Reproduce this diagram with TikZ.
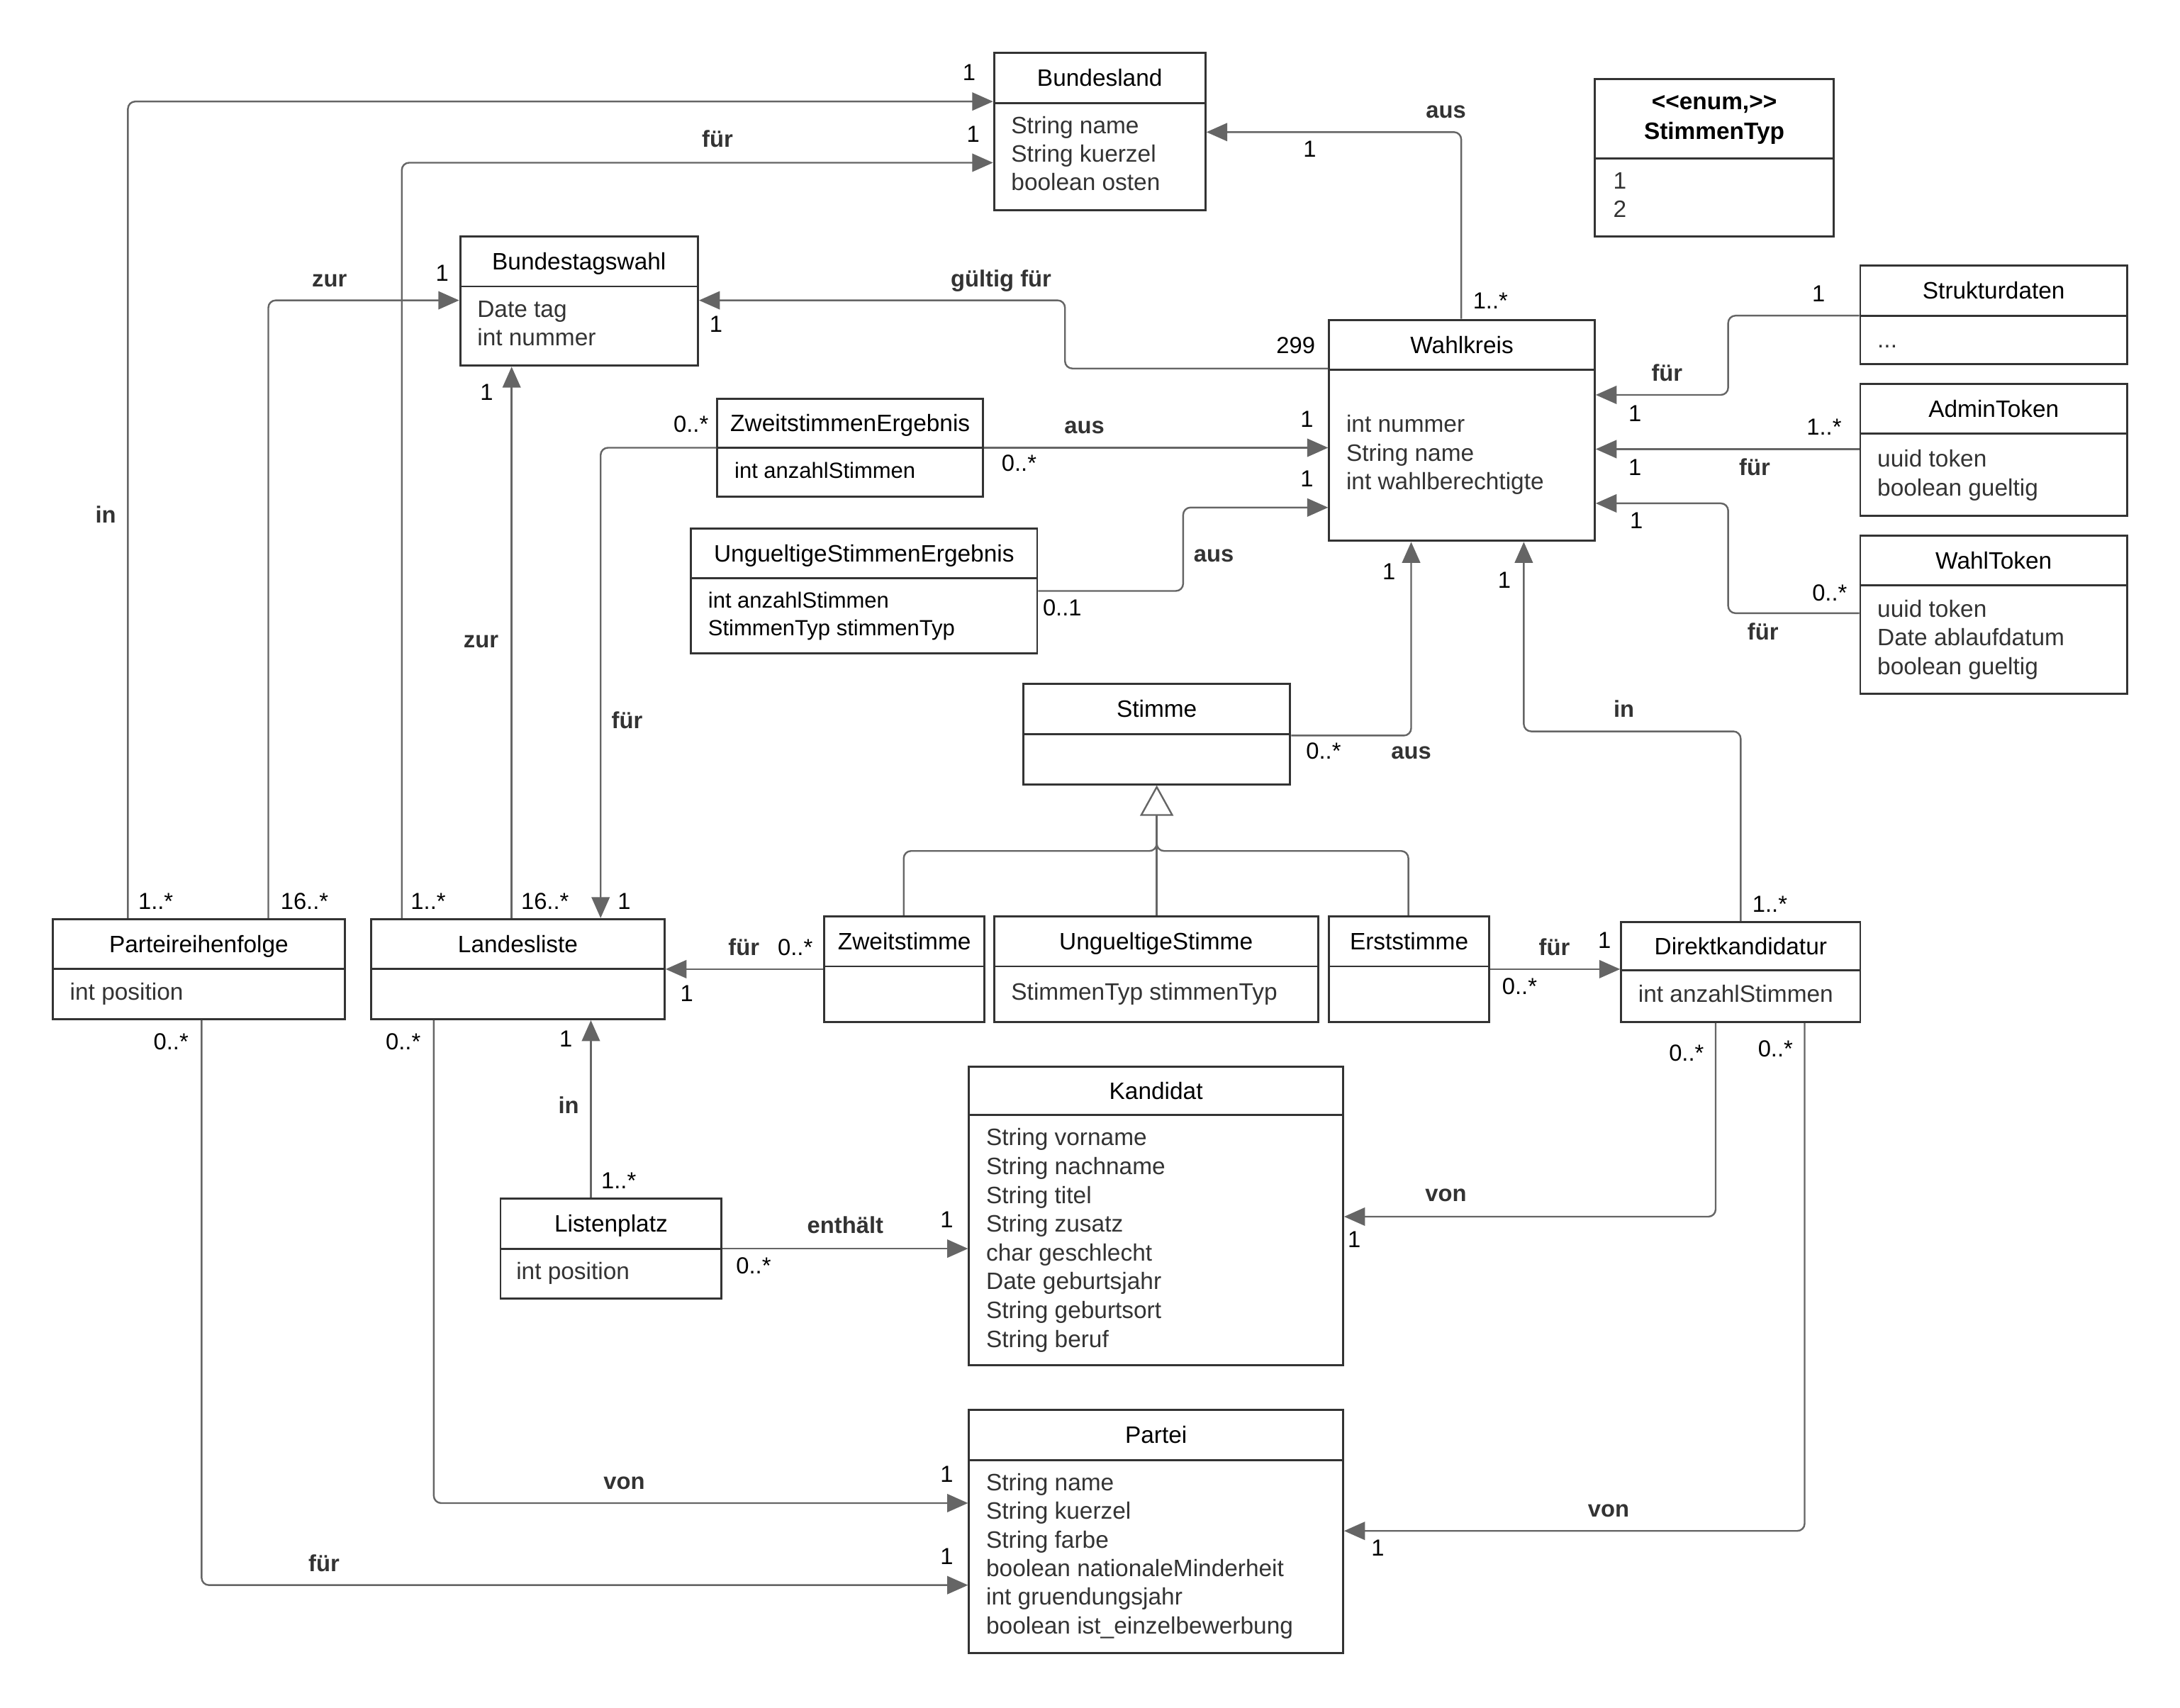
\documentclass[tikz,border=0pt]{standalone}
\usepackage{fontspec}
\setmainfont{Liberation Sans}
\usetikzlibrary{arrows.meta,fit,calc}
\definecolor{boxc}{HTML}{333333}
\definecolor{linec}{HTML}{656565}
\definecolor{attrc}{HTML}{333333}
\tikzset{
  sepline/.style={draw=boxc, line width=0.85pt},
  ttl/.style={inner sep=0pt, anchor=base, font=\fontsize{9.7}{11}\selectfont, text=black},
  attr/.style={inner sep=0pt, anchor=base west, font=\fontsize{9.7}{11}\selectfont, text=attrc},
  attrsmall/.style={inner sep=0pt, anchor=base west, font=\fontsize{9}{11}\selectfont, text=black},
  conn/.style={draw=linec, line width=0.7pt, rounded corners=3pt, -{Triangle[length=0.3cm,width=0.26cm]}},
  genl/.style={draw=linec, line width=0.7pt, rounded corners=3pt},
  gen/.style={draw=linec, line width=0.7pt, -{Triangle[length=0.44cm,width=0.48cm,fill=white]}},
  mult/.style={inner sep=0pt, anchor=base, font=\fontsize{9.5}{11}\selectfont, text=black},
  rl/.style={inner sep=0pt, anchor=base, font=\bfseries\fontsize{9.5}{11}\selectfont, text=boxc},
}
\newcommand{\umlclass}[7]{%
  \node[draw=boxc, line width=0.85pt, inner sep=0pt, fit={(#2,#3) (#4,#5)}] (#1) {};
  \draw[sepline] (#1.west |- 0,#6) -- (#1.east |- 0,#6);
  \node[ttl] (#1-t) at ({(#2+#4)/2},{(#3+#6)/2+6}) {#7};
}
\newcommand{\umlattrs}[6]{%
  \foreach \txt [count=\i from 0] in {#6} {
    \node[#1] (#2-a\i) at (#3, {#4+6+\i*#5}) {\txt};
  }
}
\newcommand{\lab}[5]{\node[#1] (#2) at (#3,{#4+6}) {#5};}
\begin{document}
\begin{tikzpicture}[x=0.02cm, y=-0.02cm]
\fill[white] (0,0) rectangle (1568,1228);
\useasboundingbox (0,0) rectangle (1568,1228);

% classes
\umlclass{bl}{715}{38}{867}{151}{74}{Bundesland}
\umlattrs{attr}{bl}{727}{90}{20.5}{String name, String kuerzel, boolean osten}

\node[draw=boxc, line width=0.85pt, inner sep=0pt, fit={(1147,57) (1319,170)}] (en) {};
\draw[sepline] (en.west |- 0,114) -- (en.east |- 0,114);
\node[ttl, font=\bfseries\fontsize{9.7}{11}\selectfont] (en-t1) at (1233,79) {<\kern0pt<enum,>\kern0pt>};
\node[ttl, font=\bfseries\fontsize{9.7}{11}\selectfont] (en-t2) at (1233,100) {StimmenTyp};
\umlattrs{attr}{en}{1160}{130}{20.5}{1, 2}

\umlclass{btw}{331}{170}{502}{263}{206}{Bundestagswahl}
\umlattrs{attr}{btw}{343}{222}{20.5}{Date tag, int nummer}

\umlclass{wk}{956}{230}{1147}{389}{266}{Wahlkreis}
\umlattrs{attr}{wk}{968}{305}{20.5}{int nummer, String name, int wahlberechtigte}

\umlclass{sd}{1338}{191}{1530}{262}{227}{Strukturdaten}
\node[attr] (sd-a0) at (1350,250) {...};

\umlclass{at}{1338}{276}{1530}{371}{312}{AdminToken}
\umlattrs{attr}{at}{1350}{330}{20.5}{uuid token, boolean gueltig}

\umlclass{wt}{1338}{385}{1530}{499}{421}{WahlToken}
\umlattrs{attr}{wt}{1350}{438}{20.5}{uuid token, Date ablaufdatum, boolean gueltig}

\umlclass{ze}{516}{287}{707}{357}{322}{ZweitstimmenErgebnis}
\umlattrs{attrsmall}{ze}{528}{338}{20}{int anzahlStimmen}

\umlclass{ue}{497}{380}{746}{470}{416}{UngueltigeStimmenErgebnis}
\umlattrs{attrsmall}{ue}{509}{431}{20}{int anzahlStimmen, StimmenTyp stimmenTyp}

\umlclass{st}{736}{492}{928}{564}{528}{Stimme}

\umlclass{zs}{593}{659}{708}{735}{695}{Zweitstimme}
\umlclass{us}{715}{659}{948}{735}{695}{UngueltigeStimme}
\umlattrs{attr}{us}{727}{713}{20.5}{StimmenTyp stimmenTyp}
\umlclass{es}{956}{659}{1071}{735}{695}{Erststimme}

\umlclass{dk}{1166}{663}{1338}{735}{698}{Direktkandidatur}
\umlattrs{attr}{dk}{1178}{715}{20.5}{int anzahlStimmen}

\umlclass{prf}{38}{661}{248}{733}{697}{Parteireihenfolge}
\umlattrs{attr}{prf}{50}{713}{20.5}{int position}

\umlclass{ll}{267}{661}{478}{733}{697}{Landesliste}

\umlclass{lp}{360}{862}{519}{934}{898}{Listenplatz}
\umlattrs{attr}{lp}{371}{914}{20.5}{int position}

\umlclass{kd}{697}{767}{966}{982}{802}{Kandidat}
\umlattrs{attr}{kd}{709}{818}{20.7}{String vorname, String nachname, String titel, String zusatz, char geschlecht, Date geburtsjahr, String geburtsort, String beruf}

\umlclass{pt}{697}{1014}{966}{1189}{1050}{Partei}
\umlattrs{attr}{pt}{709}{1066}{20.6}{String name, String kuerzel, String farbe, boolean nationaleMinderheit, int gruendungsjahr, boolean ist\_einzelbewerbung}

% connectors
\draw[conn] (prf.north -| 92,0) |- (bl.west |- 0,73);
\draw[conn] (ll.north -| 289,0) |- (bl.west |- 0,117);
\draw[conn] (prf.north -| 193,0) |- (btw.west |- 0,216);
\draw[conn] (ll.north -| 368,0) -- (btw.south -| 368,0);
\draw[conn] (wk.west |- 0,265) -| (766,216) -- (btw.east |- 0,216);
\draw[conn] (wk.north -| 1051,0) |- (bl.east |- 0,95);
\draw[conn] (ze.west |- 0,322) -| (ll.north -| 432,0);
\draw[conn] (ze.east |- 0,322) -- (wk.west |- 0,322);
\draw[conn] (ue.east |- 0,425) -| (851,365) -- (wk.west |- 0,365);
\draw[conn] (st.east |- 0,529) -| (wk.south -| 1015,0);
\draw[conn] (dk.north -| 1252,0) |- (1096,526) -- (wk.south -| 1096,0);
\draw[conn] (sd.west |- 0,227) -| (1243,284) -- (wk.east |- 0,284);
\draw[conn] (at.west |- 0,323) -- (wk.east |- 0,323);
\draw[conn] (wt.west |- 0,441) -| (1243,362) -- (wk.east |- 0,362);
\draw[conn] (zs.west |- 0,697) -- (ll.east |- 0,697);
\draw[conn] (es.east |- 0,697) -- (dk.west |- 0,697);
\draw[conn] (lp.north -| 425,0) -- (ll.south -| 425,0);
\draw[conn] (lp.east |- 0,898) -- (kd.west |- 0,898);
\draw[conn] (dk.south -| 1234,0) |- (kd.east |- 0,875);
\draw[conn] (dk.south -| 1298,0) |- (pt.east |- 0,1101);
\draw[conn] (ll.south -| 312,0) |- (pt.west |- 0,1081);
\draw[conn] (prf.south -| 145,0) |- (pt.west |- 0,1140);

% generalisation
\draw[genl] (zs.north -| 650,0) |- (832,612) -- (832,595);
\draw[genl] (es.north -| 1013,0) |- (832,612) -- (832,595);
\draw[gen] (us.north -| 832,0) -- (st.south -| 832,0);

% labels
\lab{mult}{m1}{697}{52}{1}
\lab{rl}{r1}{76}{370}{in}
\lab{mult}{m2}{112}{648}{1..*}
\lab{rl}{r2}{516}{100}{für}
\lab{mult}{m3}{700}{96}{1}
\lab{mult}{m4}{308}{648}{1..*}
\lab{rl}{r3}{237}{200}{zur}
\lab{mult}{m5}{318}{196}{1}
\lab{mult}{m6}{219}{648}{16..*}
\lab{rl}{r4}{346}{460}{zur}
\lab{mult}{m7}{392}{648}{16..*}
\lab{mult}{m8}{350}{282}{1}
\lab{rl}{r5}{720}{200}{gültig für}
\lab{mult}{m9}{932}{248}{299}
\lab{mult}{m10}{515}{233}{1}
\lab{rl}{r6}{1040}{79}{aus}
\lab{mult}{m11}{1072}{216}{1..*}
\lab{mult}{m12}{942}{107}{1}
\lab{mult}{m13}{497}{305}{0..*}
\lab{mult}{m14}{449}{648}{1}
\lab{rl}{r7}{451}{518}{für}
\lab{rl}{r8}{780}{306}{aus}
\lab{mult}{m15}{733}{333}{0..*}
\lab{mult}{m16}{940}{301}{1}
\lab{rl}{r9}{873}{398}{aus}
\lab{mult}{m17}{764}{437}{0..1}
\lab{mult}{m18}{940}{344}{1}
\lab{mult}{m19}{952}{540}{0..*}
\lab{rl}{r10}{1015}{540}{aus}
\lab{mult}{m20}{999}{411}{1}
\lab{rl}{r11}{1168}{510}{in}
\lab{mult}{m21}{1273}{650}{1..*}
\lab{mult}{m22}{1082}{417}{1}
\lab{mult}{m23}{1308}{211}{1}
\lab{rl}{r12}{1199}{268}{für}
\lab{mult}{m24}{1176}{297}{1}
\lab{mult}{m25}{1312}{307}{1..*}
\lab{rl}{r13}{1262}{336}{für}
\lab{mult}{m26}{1176}{336}{1}
\lab{mult}{m27}{1316}{426}{0..*}
\lab{rl}{r14}{1268}{454}{für}
\lab{mult}{m28}{1177}{374}{1}
\lab{rl}{r15}{535}{681}{für}
\lab{mult}{m29}{572}{681}{0..*}
\lab{mult}{m30}{494}{714}{1}
\lab{rl}{r16}{1118}{681}{für}
\lab{mult}{m31}{1093}{709}{0..*}
\lab{mult}{m32}{1154}{676}{1}
\lab{rl}{r17}{409}{795}{in}
\lab{mult}{m33}{445}{849}{1..*}
\lab{mult}{m34}{407}{747}{1}
\lab{rl}{r18}{608}{881}{enthält}
\lab{mult}{m35}{542}{910}{0..*}
\lab{mult}{m36}{681}{877}{1}
\lab{rl}{r19}{1040}{858}{von}
\lab{mult}{m37}{1213}{757}{0..*}
\lab{mult}{m38}{974}{891}{1}
\lab{rl}{r20}{1157}{1085}{von}
\lab{mult}{m39}{1277}{754}{0..*}
\lab{mult}{m40}{991}{1113}{1}
\lab{rl}{r21}{449}{1065}{von}
\lab{mult}{m41}{290}{749}{0..*}
\lab{mult}{m42}{681}{1060}{1}
\lab{rl}{r22}{233}{1124}{für}
\lab{mult}{m43}{123}{749}{0..*}
\lab{mult}{m44}{681}{1119}{1}
\end{tikzpicture}
\end{document}
